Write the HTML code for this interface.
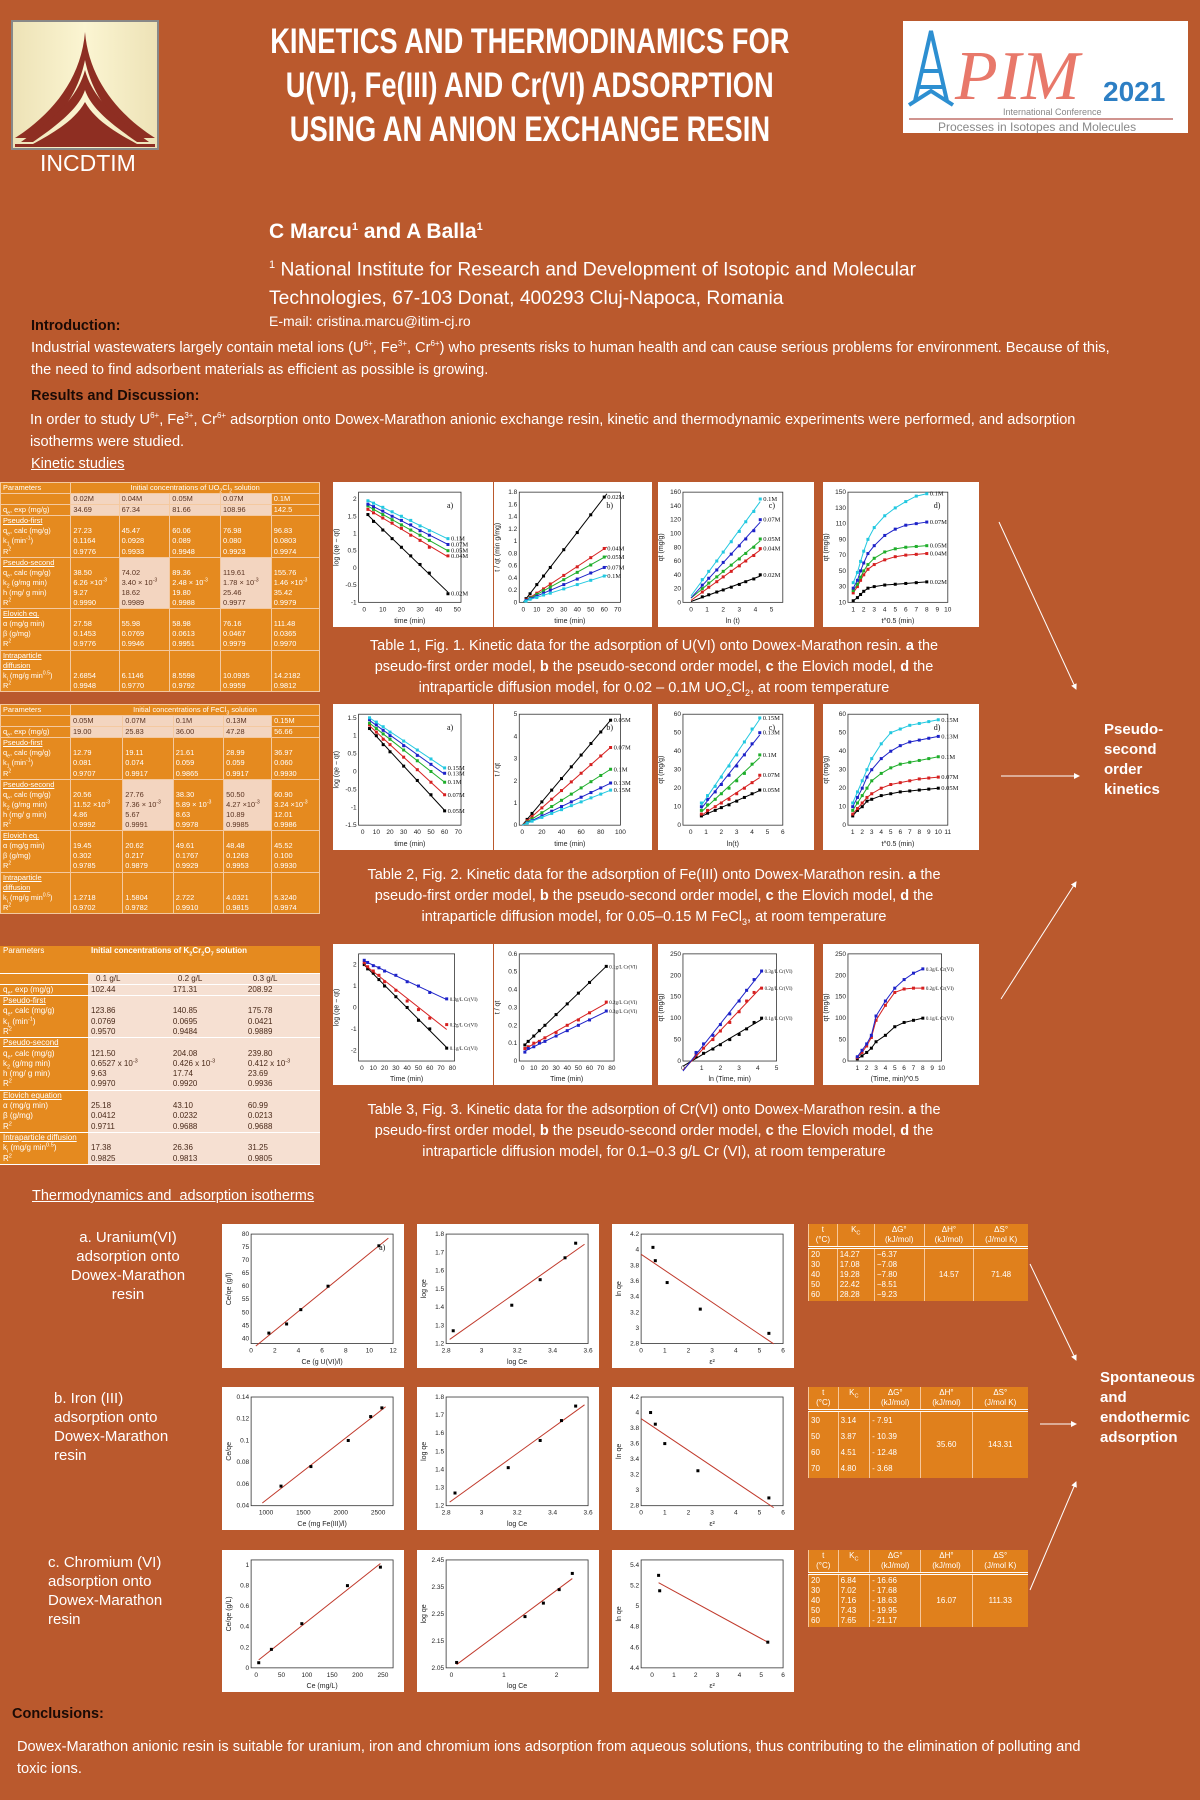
<!DOCTYPE html>
<html><head><meta charset="utf-8">
<style>
*{margin:0;padding:0;box-sizing:border-box}
body{width:1200px;height:1800px;background:#BA592D;position:relative;overflow:hidden;font-family:"Liberation Sans",sans-serif;color:#fff}
.a{position:absolute}
.title{left:190px;width:680px;top:20px;text-align:center;font-weight:bold;font-size:35px;line-height:44px}
.title span{display:inline-block;transform:scaleX(0.78);white-space:nowrap}
.txt{font-size:15px;line-height:22px;white-space:nowrap}
.panel{background:#fff;position:absolute}
.cap{font-size:14.5px;line-height:21px;text-align:center;white-space:nowrap}
table{border-collapse:collapse;font-family:"Liberation Sans Narrow","Liberation Sans",sans-serif;color:#fff;position:absolute}
table sup,table sub{line-height:0;font-size:70%}
.kt td{font-size:7.4px;line-height:10.1px;border:1px solid #f4c9a0;background:#E58A1F;vertical-align:top;padding:0 2px;color:#fff;white-space:nowrap}
.kt td.l{background:#F3D5C0;color:#5a3320}
.kt u{text-decoration:underline}
.t3 td{font-size:8px;line-height:10.3px;border-bottom:1px solid #fff;background:#F6E0D2;color:#4a2a1a;vertical-align:top;padding:0 3px;white-space:nowrap}
.t3 td.o{background:#E58A1F;color:#fff}
.th td{font-size:8px;line-height:10px;background:#E0801C;color:#fff;text-align:center;border-left:1px solid #f7c79a;vertical-align:top;padding:1px 2px;white-space:nowrap}
.th tr.h td{border-bottom:3px double #fff}
.side{font-weight:bold;font-size:15px;line-height:20px}
</style></head><body>

<div class="a" style="left:11px;top:20px;width:148px;height:130px">
<svg width="148" height="130" viewBox="0 0 148 130">
<defs><linearGradient id="lg" x1="0" y1="0" x2="1" y2="0"><stop offset="0" stop-color="#EDE2B6"/><stop offset="0.5" stop-color="#FBF5D2"/><stop offset="1" stop-color="#EDE2B6"/></linearGradient></defs>
<rect x="1" y="1" width="146" height="128" fill="url(#lg)" stroke="#888" stroke-width="2"/>
<path d="M74 12 C70 60 40 95 4 118 L20 118 C50 100 68 70 74 40 C80 70 98 100 128 118 L144 118 C108 95 78 60 74 12Z" fill="#8E2E22"/>
<path d="M74 50 C66 80 40 100 10 122 L22 122 C48 104 68 88 74 70 C80 88 100 104 126 122 L138 122 C108 100 82 80 74 50Z" fill="#8E2E22"/>
<path d="M74 82 C64 100 44 112 22 124 L126 124 C104 112 84 100 74 82Z" fill="#8E2E22"/>
<rect x="4" y="124" width="140" height="3" fill="#8E2E22"/>
</svg></div>
<div class="a" style="left:40px;top:150px;font-size:23px;font-family:'Liberation Sans Narrow','Liberation Sans',sans-serif">INCDTIM</div>

<div class="a title"><span>KINETICS AND THERMODINAMICS FOR</span><br><span>U(VI), Fe(III) AND Cr(VI) ADSORPTION</span><br><span>USING AN ANION EXCHANGE RESIN</span></div>

<div class="a" style="left:903px;top:21px;width:285px;height:112px;background:#fff">
<svg width="285" height="112" viewBox="0 0 285 112">
<path d="M12 80 L28 10 L44 80 M16 66 L40 66 M20 50 L36 50 M6 84 L28 70 L50 84" stroke="#2D8FD1" stroke-width="4" fill="none"/>
<text x="52" y="78" font-family="Liberation Serif,serif" font-style="italic" font-size="70" fill="#E8786A">PIM</text>
<text x="200" y="80" font-family="Liberation Sans,sans-serif" font-weight="bold" font-size="28" fill="#2D7FC4">2021</text>
<text x="100" y="94" font-family="Liberation Sans,sans-serif" font-size="9" fill="#888">International Conference</text>
<line x1="6" y1="98" x2="270" y2="98" stroke="#C0706A" stroke-width="1.5"/>
<text x="35" y="110" font-family="Liberation Sans,sans-serif" font-size="12" fill="#888">Processes in Isotopes and Molecules</text>
</svg></div>

<div class="a" style="left:269px;top:220px;font-size:21px;font-weight:bold">C Marcu<sup style="font-size:11px">1</sup> and A Balla<sup style="font-size:11px">1</sup></div>
<div class="a" style="left:269px;top:251px;font-size:19.3px;line-height:29px;white-space:nowrap"><sup style="font-size:11px">1</sup> National Institute for Research and Development of Isotopic and Molecular<br>Technologies, 67-103 Donat, 400293 Cluj-Napoca, Romania</div>
<div class="a" style="left:269px;top:313px;font-size:14px">E-mail: cristina.marcu@itim-cj.ro</div>

<div class="a" style="left:31px;top:318px;font-size:14.5px;font-weight:bold;color:#1a0a05">Introduction:</div>
<div class="a txt" style="left:31px;top:333px;font-size:14.6px">Industrial wastewaters largely contain metal ions (U<sup style="font-size:8px">6+</sup>, Fe<sup style="font-size:8px">3+</sup>, Cr<sup style="font-size:8px">6+</sup>) who presents risks to human health and can cause serious problems for environment. Because of this,<br>the need to find adsorbent materials as efficient as possible is growing.</div>
<div class="a" style="left:31px;top:388px;font-size:14.5px;font-weight:bold;color:#1a0a05">Results and Discussion:</div>
<div class="a txt" style="left:30px;top:405px;font-size:14.6px">In order to study U<sup style="font-size:8px">6+</sup>, Fe<sup style="font-size:8px">3+</sup>, Cr<sup style="font-size:8px">6+</sup> adsorption onto Dowex-Marathon anionic exchange resin, kinetic and thermodynamic experiments were performed, and adsorption<br>isotherms were studied.</div>
<div class="a" style="left:31px;top:456px;font-size:14.5px;text-decoration:underline">Kinetic studies</div>

<!-- Table 1 -->
<table class="kt" style="left:0;top:482px;width:320px">
<tr><td>Parameters</td><td colspan="5" style="text-align:center">Initial concentrations of UO<sub>2</sub>Cl<sub>2</sub> solution</td></tr>
<tr><td></td><td class="l">0.02M</td><td class="l">0.04M</td><td class="l">0.05M</td><td class="l">0.07M</td><td>0.1M</td></tr>
<tr><td>q<sub>e</sub>, exp (mg/g)</td><td class="l">34.69</td><td class="l">67.34</td><td class="l">81.66</td><td class="l">108.96</td><td>142.5</td></tr>
<tr><td><u>Pseudo-first</u><br>q<sub>e</sub>, calc (mg/g)<br>k<sub>1</sub> (min<sup>-1</sup>)<br>R<sup>2</sup></td><td><br>27.23<br>0.1164<br>0.9776</td><td><br>45.47<br>0.0928<br>0.9933</td><td><br>60.06<br>0.089<br>0.9948</td><td><br>76.98<br>0.080<br>0.9923</td><td><br>96.83<br>0.0803<br>0.9974</td></tr>
<tr><td><u>Pseudo-second</u><br>q<sub>e</sub>, calc (mg/g)<br>k<sub>2</sub> (g/mg min)<br>h (mg/ g min)<br>R<sup>2</sup></td><td><br>38.50<br>6.26 ×10<sup>-3</sup><br>9.27<br>0.9990</td><td class="l"><br>74.02<br>3.40 × 10<sup>-3</sup><br>18.62<br>0.9989</td><td><br>89.36<br>2.48 × 10<sup>-3</sup><br>19.80<br>0.9988</td><td class="l"><br>119.61<br>1.78 × 10<sup>-3</sup><br>25.46<br>0.9977</td><td><br>155.76<br>1.46 ×10<sup>-3</sup><br>35.42<br>0.9979</td></tr>
<tr><td><u>Elovich eq.</u><br>α (mg/g min)<br>β (g/mg)<br>R<sup>2</sup></td><td><br>27.58<br>0.1453<br>0.9776</td><td><br>55.98<br>0.0769<br>0.9946</td><td><br>58.98<br>0.0613<br>0.9951</td><td><br>76.16<br>0.0467<br>0.9979</td><td><br>111.48<br>0.0365<br>0.9970</td></tr>
<tr><td><u>Intraparticle</u><br><u>diffusion</u><br>k<sub>i</sub> (mg/g min<sup>0.5</sup>)<br>R<sup>2</sup></td><td><br><br>2.6854<br>0.9948</td><td><br><br>6.1146<br>0.9770</td><td><br><br>8.5598<br>0.9792</td><td><br><br>10.0935<br>0.9959</td><td><br><br>14.2182<br>0.9812</td></tr>
</table>

<!-- Table 2 -->
<table class="kt" style="left:0;top:704px;width:320px">
<tr><td>Parameters</td><td colspan="5" style="text-align:center">Initial concentrations of FeCl<sub>3</sub> solution</td></tr>
<tr><td></td><td class="l">0.05M</td><td class="l">0.07M</td><td class="l">0.1M</td><td class="l">0.13M</td><td>0.15M</td></tr>
<tr><td>q<sub>e</sub>, exp (mg/g)</td><td class="l">19.00</td><td class="l">25.83</td><td class="l">36.00</td><td class="l">47.28</td><td>56.66</td></tr>
<tr><td><u>Pseudo-first</u><br>q<sub>e</sub>, calc (mg/g)<br>k<sub>1</sub> (min<sup>-1</sup>)<br>R<sup>2</sup></td><td><br>12.79<br>0.081<br>0.9707</td><td><br>19.11<br>0.074<br>0.9917</td><td><br>21.61<br>0.059<br>0.9865</td><td><br>28.99<br>0.059<br>0.9917</td><td><br>36.97<br>0.060<br>0.9930</td></tr>
<tr><td><u>Pseudo-second</u><br>q<sub>e</sub>, calc (mg/g)<br>k<sub>2</sub> (g/mg min)<br>h (mg/ g min)<br>R<sup>2</sup></td><td><br>20.56<br>11.52 ×10<sup>-3</sup><br>4.86<br>0.9992</td><td class="l"><br>27.76<br>7.36 × 10<sup>-3</sup><br>5.67<br>0.9991</td><td><br>38.30<br>5.89 × 10<sup>-3</sup><br>8.63<br>0.9978</td><td class="l"><br>50.50<br>4.27 ×10<sup>-3</sup><br>10.89<br>0.9985</td><td><br>60.90<br>3.24 ×10<sup>-3</sup><br>12.01<br>0.9986</td></tr>
<tr><td><u>Elovich eq.</u><br>α (mg/g min)<br>β (g/mg)<br>R<sup>2</sup></td><td><br>19.45<br>0.302<br>0.9785</td><td><br>20.62<br>0.217<br>0.9879</td><td><br>49.61<br>0.1767<br>0.9929</td><td><br>48.48<br>0.1263<br>0.9953</td><td><br>45.52<br>0.100<br>0.9930</td></tr>
<tr><td><u>Intraparticle</u><br><u>diffusion</u><br>k<sub>i</sub> (mg/g min<sup>0.5</sup>)<br>R<sup>2</sup></td><td><br><br>1.2718<br>0.9702</td><td><br><br>1.5804<br>0.9782</td><td><br><br>2.722<br>0.9910</td><td><br><br>4.0321<br>0.9815</td><td><br><br>5.3240<br>0.9974</td></tr>
</table>

<!-- Table 3 -->
<table class="t3" style="left:0;top:946px;width:320px">
<tr><td class="o" style="height:27px;width:88px">Parameters</td><td class="o" colspan="3" style="font-weight:bold">Initial concentrations of K<sub>2</sub>Cr<sub>2</sub>O<sub>7</sub> solution</td></tr>
<tr><td class="o"></td><td style="padding-left:8px">0.1 g/L</td><td style="padding-left:8px">0.2 g/L</td><td style="padding-left:8px">0.3 g/L</td></tr>
<tr><td class="o">q<sub>e</sub>, exp (mg/g)</td><td>102.44</td><td>171.31</td><td>208.92</td></tr>
<tr><td class="o"><u>Pseudo-first</u><br>q<sub>e</sub>, calc (mg/g)<br>k<sub>1</sub> (min<sup>-1</sup>)<br>R<sup>2</sup></td><td><br>123.86<br>0.0769<br>0.9570</td><td><br>140.85<br>0.0695<br>0.9484</td><td><br>175.78<br>0.0421<br>0.9889</td></tr>
<tr><td class="o"><u>Pseudo-second</u><br>q<sub>e</sub>, calc (mg/g)<br>k<sub>2</sub> (g/mg min)<br>h (mg/ g min)<br>R<sup>2</sup></td><td><br>121.50<br>0.6527 x 10<sup>-3</sup><br>9.63<br>0.9970</td><td><br>204.08<br>0.426 x 10<sup>-3</sup><br>17.74<br>0.9920</td><td><br>239.80<br>0.412 x 10<sup>-3</sup><br>23.69<br>0.9936</td></tr>
<tr><td class="o"><u>Elovich equation</u><br>α (mg/g min)<br>β (g/mg)<br>R<sup>2</sup></td><td><br>25.18<br>0.0412<br>0.9711</td><td><br>43.10<br>0.0232<br>0.9688</td><td><br>60.99<br>0.0213<br>0.9688</td></tr>
<tr><td class="o"><u>Intraparticle diffusion</u><br>k<sub>i</sub> (mg/g min<sup>0.5</sup>)<br>R<sup>2</sup></td><td><br>17.38<br>0.9825</td><td><br>26.36<br>0.9813</td><td><br>31.25<br>0.9805</td></tr>
</table>

<div class="a cap" style="left:344px;width:620px;top:636px">Table 1, Fig. 1. Kinetic data for the adsorption of U(VI) onto Dowex-Marathon resin. <b>a</b> the<br>pseudo-first order model, <b>b</b> the pseudo-second order model, <b>c</b> the Elovich model, <b>d</b> the<br>intraparticle diffusion model, for 0.02 – 0.1M UO<sub style="font-size:9px;line-height:0">2</sub>Cl<sub style="font-size:9px;line-height:0">2</sub>, at room temperature</div>
<div class="a cap" style="left:344px;width:620px;top:865px">Table 2, Fig. 2. Kinetic data for the adsorption of Fe(III) onto Dowex-Marathon resin. <b>a</b> the<br>pseudo-first order model, <b>b</b> the pseudo-second order model, <b>c</b> the Elovich model, <b>d</b> the<br>intraparticle diffusion model, for 0.05–0.15 M FeCl<sub style="font-size:9px;line-height:0">3</sub>, at room temperature</div>
<div class="a cap" style="left:344px;width:620px;top:1100px">Table 3, Fig. 3. Kinetic data for the adsorption of Cr(VI) onto Dowex-Marathon resin. <b>a</b> the<br>pseudo-first order model, <b>b</b> the pseudo-second order model, <b>c</b> the Elovich model, <b>d</b> the<br>intraparticle diffusion model, for 0.1–0.3 g/L Cr (VI), at room temperature</div>

<div class="a side" style="left:1104px;top:720px">Pseudo-<br>second<br>order<br>kinetics</div>
<div class="a side" style="left:1100px;top:1368px">Spontaneous<br>and<br>endothermic<br>adsorption</div>

<svg class="a" style="left:0;top:0" width="1200" height="1800">
<defs><marker id="ah" markerWidth="6" markerHeight="6" refX="5" refY="3" orient="auto"><path d="M0 0 L6 3 L0 6Z" fill="#fff"/></marker></defs>
<g stroke="#fff" stroke-width="1" marker-end="url(#ah)">
<line x1="999" y1="522" x2="1076" y2="689"/><line x1="1001" y1="776" x2="1079" y2="776"/><line x1="1001" y1="999" x2="1076" y2="882"/>
<line x1="1030" y1="1264" x2="1076" y2="1360"/><line x1="1040" y1="1424" x2="1076" y2="1424"/><line x1="1030" y1="1590" x2="1076" y2="1482"/>
</g></svg>

<div class="a" style="left:32px;top:1188px;font-size:14.5px;text-decoration:underline">Thermodynamics and &nbsp;adsorption isotherms</div>
<div class="a" style="left:63px;top:1228px;font-size:15px;line-height:19px;text-align:center;width:130px">a. Uranium(VI)<br>adsorption onto<br>Dowex-Marathon<br>resin</div>
<div class="a" style="left:54px;top:1389px;font-size:15px;line-height:19px">b. Iron (III)<br>adsorption onto<br>Dowex-Marathon<br>resin</div>
<div class="a" style="left:48px;top:1553px;font-size:15px;line-height:19px">c. Chromium (VI)<br>adsorption onto<br>Dowex-Marathon<br>resin</div>

<table class="th" style="left:808px;top:1224px;width:220px">
<tr class="h"><td>t<br>(°C)</td><td>K<sub>C</sub></td><td>ΔG°<br>(kJ/mol)</td><td>ΔH°<br>(kJ/mol)</td><td>ΔS°<br>(J/mol K)</td></tr>
<tr><td style="text-align:left">20<br>30<br>40<br>50<br>60</td><td style="text-align:left">14.27<br>17.08<br>19.28<br>22.42<br>28.28</td><td style="text-align:left">−6.37<br>−7.08<br>−7.80<br>−8.51<br>−9.23</td><td style="vertical-align:middle">14.57</td><td style="vertical-align:middle">71.48</td></tr>
</table>
<table class="th" style="left:808px;top:1387px;width:220px">
<tr class="h"><td>t<br>(°C)</td><td>K<sub>C</sub></td><td>ΔG°<br>(kJ/mol)</td><td>ΔH°<br>(kJ/mol)</td><td>ΔS°<br>(J/mol K)</td></tr>
<tr><td style="text-align:left;line-height:16px">30<br>50<br>60<br>70</td><td style="text-align:left;line-height:16px">3.14<br>3.87<br>4.51<br>4.80</td><td style="text-align:left;line-height:16px">- 7.91<br>- 10.39<br>- 12.48<br>- 3.68</td><td style="vertical-align:middle">35.60</td><td style="vertical-align:middle">143.31</td></tr>
</table>
<table class="th" style="left:808px;top:1550px;width:220px">
<tr class="h"><td>t<br>(°C)</td><td>K<sub>C</sub></td><td>ΔG°<br>(kJ/mol)</td><td>ΔH°<br>(kJ/mol)</td><td>ΔS°<br>(J/mol K)</td></tr>
<tr><td style="text-align:left">20<br>30<br>40<br>50<br>60</td><td style="text-align:left">6.84<br>7.02<br>7.16<br>7.43<br>7.65</td><td style="text-align:left">- 16.66<br>- 17.68<br>- 18.63<br>- 19.95<br>- 21.17</td><td style="vertical-align:middle">16.07</td><td style="vertical-align:middle">111.33</td></tr>
</table>

<div class="a" style="left:12px;top:1706px;font-size:14.5px;font-weight:bold;color:#1a0a05">Conclusions:</div>
<div class="a txt" style="left:17px;top:1736px;font-size:14.6px">Dowex-Marathon anionic resin is suitable for uranium, iron and chromium ions adsorption from aqueous solutions, thus contributing to the elimination of polluting and<br>toxic ions.</div>

<div id="plots"></div>

<script>
// ---------- data ----------
const colors5 = ['#000000','#d62020','#1fae2b','#1d22c8','#22c8e0'];
const colors3 = ['#000000','#d62020','#1d22c8'];
const f1Labels = ['0.02M','0.04M','0.05M','0.07M','0.1M'];
const f1aX = [2,5,10,15,20,25,30,35,45];
const f1aY = [[1.55,1.35,1.1,0.85,0.6,0.35,0.1,-0.15,-0.75],[1.7,1.6,1.45,1.3,1.15,0.95,0.8,0.6,0.35],[1.8,1.7,1.55,1.4,1.25,1.1,0.95,0.8,0.5],[1.85,1.78,1.65,1.5,1.38,1.25,1.08,0.95,0.68],[1.95,1.88,1.76,1.63,1.5,1.38,1.22,1.08,0.85]];
const f1bX = [2,5,10,15,20,30,40,50,60];
const f1bY = [[0.06,0.14,0.29,0.43,0.57,0.86,1.14,1.43,1.72],[0.04,0.08,0.15,0.22,0.3,0.44,0.58,0.73,0.88],[0.03,0.07,0.13,0.19,0.25,0.37,0.49,0.61,0.74],[0.03,0.06,0.1,0.15,0.2,0.29,0.38,0.48,0.57],[0.02,0.05,0.08,0.12,0.15,0.22,0.29,0.36,0.43]];
const f1cX = [0.7,1.1,1.6,2.0,2.5,3.0,3.4,3.9,4.3];
const f1cY = [[8,11,15,18,22,26,30,34,40],[15,22,30,37,45,53,60,68,78],[20,28,37,45,54,63,71,80,92],[25,35,47,58,70,82,92,104,120],[33,45,60,73,88,103,117,132,150]];
const f1dX = [1,1.4,1.7,2,2.4,3,4,5,6,7,8];
const f1dY = [[12,16,20,24,28,30,32,33,34,35,36],[22,30,38,45,52,58,64,68,70,71,72],[25,33,42,50,58,66,74,78,80,81,82],[28,38,50,60,72,82,95,103,108,110,112],[35,48,62,75,90,105,120,130,138,145,148]];
const f2Labels = ['0.05M','0.07M','0.1M','0.13M','0.15M'];
const f2aX = [5,10,15,20,30,40,50,60];
const f2aY = [[1.2,1.0,0.75,0.55,0.15,-0.25,-0.65,-1.1],[1.3,1.1,0.9,0.75,0.4,0.05,-0.3,-0.65],[1.35,1.2,1.05,0.9,0.6,0.3,0.0,-0.3],[1.45,1.3,1.15,1.0,0.72,0.45,0.2,-0.05],[1.5,1.38,1.25,1.1,0.85,0.6,0.35,0.1]];
const f2bX = [5,10,20,30,40,50,60,70,80,90];
const f2bY = [[0.26,0.53,1.05,1.58,2.1,2.63,3.16,3.68,4.2,4.73],[0.2,0.39,0.78,1.17,1.56,1.95,2.34,2.73,3.12,3.5],[0.14,0.28,0.56,0.84,1.12,1.4,1.68,1.96,2.24,2.52],[0.11,0.21,0.42,0.63,0.84,1.05,1.26,1.47,1.68,1.9],[0.09,0.18,0.35,0.53,0.7,0.88,1.05,1.23,1.4,1.58]];
const f2cX = [0.7,1.1,1.6,2.0,2.5,3.0,3.5,4.0,4.5];
const f2cY = [[5,6.5,8,9.5,11,13,15,17,19],[6,8,10,12,14,17,20,23,27],[8,11,14,17,20,24,28,33,38],[10,14,18,22,27,32,38,44,50],[12,16,21,26,32,38,45,52,58]];
const f2dX = [1,1.5,2,2.5,3,4,5,6,7,8,9,10];
const f2dY = [[5,8,10,13,14,16,17,18,18.5,19,19.5,20],[6,9,12,15,17,20,22,23,24,25,25.5,26],[8,12,16,20,24,28,31,33,34,35,36,37],[10,15,20,26,30,36,40,43,45,46,47,48],[12,18,24,30,36,44,50,52,54,55,56,57]];
const f3Labels = ['0.1g/L Cr(VI)','0.2g/L Cr(VI)','0.3g/L Cr(VI)'];
const f3aX = [2,5,10,15,20,30,40,50,60,75];
const f3aY = [[2.0,1.8,1.6,1.3,1.0,0.5,0.0,-0.6,-1.0,-1.9],[2.1,1.9,1.7,1.5,1.2,0.8,0.3,-0.1,-0.5,-0.8],[2.2,2.1,1.95,1.85,1.7,1.5,1.2,1.0,0.7,0.4]];
const f3bX = [2,5,10,15,20,30,40,50,60,75];
const f3bY = [[0.09,0.11,0.14,0.17,0.2,0.26,0.32,0.38,0.44,0.53],[0.07,0.08,0.1,0.11,0.13,0.16,0.2,0.23,0.27,0.33],[0.05,0.07,0.08,0.1,0.11,0.14,0.17,0.2,0.23,0.28]];
const f3cX = [0.7,1.1,1.6,2.0,2.5,3.0,3.4,3.8,4.2];
const f3cY = [[10,18,28,38,50,62,75,90,100],[15,30,50,70,90,115,140,160,170],[20,40,60,85,110,140,165,190,210]];
const f3dX = [1,1.5,2,2.5,3,4,5,6,7,8];
const f3dY = [[5,12,20,30,45,60,80,90,95,100],[8,20,35,55,95,130,160,168,170,170],[10,25,40,60,105,140,170,190,205,215]];
const uaX = [1.5,3,4.2,6.5,10.8], uaY = [42,45.5,51,60,75.5];
const ubX = [2.84,3.17,3.33,3.47,3.53], ubY = [1.27,1.41,1.55,1.67,1.75];
const ucX = [0.5,0.6,1.1,2.5,5.4], ucY = [4.03,3.86,3.58,3.24,2.93];
const faX = [1200,1600,2100,2400,2550], faY = [0.058,0.076,0.1,0.122,0.13];
const fbX = [2.85,3.15,3.33,3.45,3.53], fbY = [1.27,1.41,1.56,1.67,1.75];
const fcX = [0.4,0.6,1.0,2.4,5.4], fcY = [4.0,3.85,3.6,3.25,2.9];
const caX = [5,30,90,180,245], caY = [0.05,0.18,0.43,0.8,0.98];
const cbX = [0.1,1.4,1.75,2.05,2.3], cbY = [2.07,2.24,2.29,2.34,2.4];
const ccX = [0.3,0.35,5.3], ccY = [5.3,5.15,4.65];
const tkTime50=[0,10,20,30,40,50], tkLog1=[-1,-0.5,0,0.5,1,1.5,2];
const tkTime70=[0,10,20,30,40,50,60,70], tk18=[0,0.2,0.4,0.6,0.8,1.0,1.2,1.4,1.6,1.8];
const tkLn5=[0,1,2,3,4,5], tk160=[0,20,40,60,80,100,120,140,160];
const tk10=[1,2,3,4,5,6,7,8,9,10], tk150=[10,30,50,70,90,110,130,150];
const tkLog2=[-1.5,-1,-0.5,0,0.5,1,1.5], tk100=[0,20,40,60,80,100], tk5=[0,1,2,3,4,5];
const tkLn6=[0,1,2,3,4,5,6], tk60=[0,10,20,30,40,50,60], tk11=[1,2,3,4,5,6,7,8,9,10,11];
const tk80=[0,10,20,30,40,50,60,70,80], tkLog3=[-2,-1,0,1,2], tkB3=[0,0.1,0.2,0.3,0.4,0.5,0.6];
const tk250=[0,50,100,150,200,250], tk12=[0,2,4,6,8,10,12], tkU=[40,45,50,55,60,65,70,75,80];
const tkLc=[2.8,3.0,3.2,3.4,3.6], tkLq=[1.2,1.3,1.4,1.5,1.6,1.7,1.8];
const tk6=[0,1,2,3,4,5,6], tkLk=[2.8,3.0,3.2,3.4,3.6,3.8,4.0,4.2];
const tkFe=[1000,1500,2000,2500], tkFy=[0.04,0.06,0.08,0.10,0.12,0.14];
const tkCa=[0,50,100,150,200,250], tkCy=[0,0.2,0.4,0.6,0.8,1.0];
const tkCb=[0,1,2], tkCby=[2.05,2.15,2.25,2.35,2.45], tkCcy=[4.4,4.6,4.8,5.0,5.2,5.4];

// ---------- renderer ----------
const NS='http://www.w3.org/2000/svg';
function mk(tag,at){const e=document.createElementNS(NS,tag);for(const k in at)e.setAttribute(k,at[k]);return e;}
function fit(x,y){const n=x.length;let sx=0,sy=0,sxx=0,sxy=0;for(let i=0;i<n;i++){sx+=x[i];sy+=y[i];sxx+=x[i]*x[i];sxy+=x[i]*y[i];}const b=(n*sxy-sx*sy)/(n*sxx-sx*sx);return [b,(sy-b*sx)/n];}
function plot(name,L,T,W,H,c){
  const d=document.createElement('div');d.className='panel';d.style.cssText=`left:${L}px;top:${T}px;width:${W}px;height:${H}px`;
  
  
  document.getElementById('plots').appendChild(d);
  const s=mk('svg',{width:W,height:H});d.appendChild(s);
  const ml=W*0.16,mr=W*(c.mr||0.2),mt=H*0.07,mb=H*0.17;
  const X=v=>ml+(v-c.xd[0])/(c.xd[1]-c.xd[0])*(W-ml-mr);
  const Y=v=>H-mb-(v-c.yd[0])/(c.yd[1]-c.yd[0])*(H-mt-mb);
  const fr=mk('rect',{x:ml,y:mt,width:W-ml-mr,height:H-mt-mb,fill:'none',stroke:'#333','stroke-width':0.8});
  
  
  s.appendChild(fr);
  c.xt.forEach(v=>{const t=mk('text',{x:X(v),y:H-mb+9,'font-size':6.5,'text-anchor':'middle',fill:'#222'});t.textContent=v;
    
    
    s.appendChild(t);});
  c.yt.forEach(v=>{const t=mk('text',{x:ml-2,y:Y(v)+2,'font-size':6.5,'text-anchor':'end',fill:'#222'});t.textContent=v;
    
    
    s.appendChild(t);});
  const xl=mk('text',{x:(ml+W-mr)/2,y:H-4,'font-size':7,'text-anchor':'middle',fill:'#222'});xl.textContent=c.xl;
  
  
  s.appendChild(xl);
  const yl=mk('text',{x:0,y:0,'font-size':7,'text-anchor':'middle',fill:'#222',transform:`translate(${ml-20},${(mt+H-mb)/2}) rotate(-90)`});yl.textContent=c.yl;
  
  
  s.appendChild(yl);
  c.ys.forEach((ys,i)=>{
    const col=c.cols[i];
    if(c.mode==='join'){const pl=mk('polyline',{points:c.x.map((v,j)=>X(v)+','+Y(ys[j])).join(' '),fill:'none',stroke:col,'stroke-width':1});
      
      
      s.appendChild(pl);}
    else{const [b,a]=fit(c.x,ys);const x0=c.fx?c.fx[0]:c.x[0],x1=c.fx?c.fx[1]:c.x[c.x.length-1];
      const ln=mk('line',{x1:X(x0),y1:Y(a+b*x0),x2:X(x1),y2:Y(a+b*x1),stroke:c.lc||col,'stroke-width':1});
      
      
      s.appendChild(ln);}
    c.x.forEach((v,j)=>{const p=mk('rect',{x:X(v)-1.5,y:Y(ys[j])-1.5,width:3,height:3,fill:col});
      
      
      s.appendChild(p);});
    if(c.labels){const lx=X(c.x[c.x.length-1])+3;const t=mk('text',{x:lx,y:Y(ys[ys.length-1])+2,'font-size':c.lfs||6.5,fill:'#111','font-family':'Liberation Serif,serif'});t.textContent=c.labels[i];
      
      
      s.appendChild(t);}
  });
  if(c.tag){const t=mk('text',{x:W-mr-14,y:mt+16,'font-size':8,fill:'#111','font-family':'Liberation Serif,serif'});t.textContent=c.tag;
    
    
    s.appendChild(t);}
}
const PX=[333,494,658,823],PW=[160,158,156,156];
plot('fig1a-pseudo-first',PX[0],482,PW[0],145,{xd:[-3,52],yd:[-1,2.2],xt:tkTime50,yt:tkLog1,xl:'time (min)',yl:'log (qe − qt)',x:f1aX,ys:f1aY,cols:colors5,labels:f1Labels,tag:'a)'});
plot('fig1b-pseudo-second',PX[1],482,PW[1],145,{xd:[-3,72],yd:[0,1.8],xt:tkTime70,yt:tk18,xl:'time (min)',yl:'t / qt (min g/mg)',x:f1bX,ys:f1bY,cols:colors5,labels:f1Labels,tag:'b)',fx:[0,62]});
plot('fig1c-elovich',PX[2],482,PW[2],145,{xd:[-0.5,5.7],yd:[0,160],xt:tkLn5,yt:tk160,xl:'ln (t)',yl:'qt (mg/g)',x:f1cX,ys:f1cY,cols:colors5,labels:f1Labels,tag:'c)',fx:[0,4.3]});
plot('fig1d-intraparticle',PX[3],482,PW[3],145,{xd:[0.5,10],yd:[10,150],xt:tk10,yt:tk150,xl:'t^0.5 (min)',yl:'qt (mg/g)',x:f1dX,ys:f1dY,cols:colors5,labels:f1Labels,mode:'join',tag:'d)'});
plot('fig2a-pseudo-first',PX[0],704,PW[0],146,{xd:[-3,72],yd:[-1.5,1.6],xt:tkTime70,yt:tkLog2,xl:'time (min)',yl:'log (qe − qt)',x:f2aX,ys:f2aY,cols:colors5,labels:f2Labels,tag:'a)'});
plot('fig2b-pseudo-second',PX[1],704,PW[1],146,{xd:[-3,100],yd:[0,5],xt:tk100,yt:tk5,xl:'time (min)',yl:'t / qt',x:f2bX,ys:f2bY,cols:colors5,labels:f2Labels,tag:'b)',fx:[0,90]});
plot('fig2c-elovich',PX[2],704,PW[2],146,{xd:[-0.5,6],yd:[0,60],xt:tkLn6,yt:tk60,xl:'ln(t)',yl:'qt (mg/g)',x:f2cX,ys:f2cY,cols:colors5,labels:f2Labels,tag:'c)'});
plot('fig2d-intraparticle',PX[3],704,PW[3],146,{xd:[0.5,11],yd:[0,60],xt:tk11,yt:tk60,xl:'t^0.5 (min)',yl:'qt (mg/g)',x:f2dX,ys:f2dY,cols:colors5,labels:f2Labels,mode:'join',tag:'d)'});
plot('fig3a-pseudo-first',PX[0],944,PW[0],141,{xd:[-3,82],yd:[-2.5,2.5],xt:tk80,yt:tkLog3,xl:'Time (min)',yl:'log (qe − qt)',x:f3aX,ys:f3aY,cols:colors3,labels:f3Labels,lfs:5,mr:0.24});
plot('fig3b-pseudo-second',PX[1],944,PW[1],141,{xd:[-3,82],yd:[0,0.6],xt:tk80,yt:tkB3,xl:'Time (min)',yl:'t / qt',x:f3bX,ys:f3bY,cols:colors3,labels:f3Labels,lfs:5,mr:0.24});
plot('fig3c-elovich',PX[2],944,PW[2],141,{xd:[0,5],yd:[0,250],xt:tk5,yt:tk250,xl:'ln (Time, min)',yl:'qt (mg/g)',x:f3cX,ys:f3cY,cols:colors3,labels:f3Labels,lfs:5,mr:0.24,fx:[0,4.2]});
plot('fig3d-intraparticle',PX[3],944,PW[3],141,{xd:[0,10],yd:[0,250],xt:tk10,yt:tk250,xl:'(Time, min)^0.5',yl:'qt (mg/g)',x:f3dX,ys:f3dY,cols:colors3,labels:f3Labels,lfs:5,mr:0.24,mode:'join'});
const TX=[222,417,612],TW=182;
plot('uranium-langmuir',TX[0],1224,TW,144,{xd:[0,12],yd:[38,80],xt:tk12,yt:tkU,xl:'Ce (g U(VI)/l)',yl:'Ce/qe (g/l)',x:uaX,ys:[uaY],cols:['#000'],lc:'#c0392b',mr:0.06,fx:[0.4,11.6],tag:'a)'});
plot('uranium-freundlich',TX[1],1224,TW,144,{xd:[2.8,3.6],yd:[1.2,1.8],xt:tkLc,yt:tkLq,xl:'log Ce',yl:'log qe',x:ubX,ys:[ubY],cols:['#000'],lc:'#c0392b',mr:0.06,fx:[2.82,3.58]});
plot('uranium-dr',TX[2],1224,TW,144,{xd:[0,6],yd:[2.8,4.2],xt:tk6,yt:tkLk,xl:'ε²',yl:'ln qe',x:ucX,ys:[ucY],cols:['#000'],lc:'#c0392b',mr:0.06,fx:[0,5.6]});
plot('iron-langmuir',TX[0],1387,TW,143,{xd:[800,2700],yd:[0.04,0.14],xt:tkFe,yt:tkFy,xl:'Ce (mg Fe(III)/l)',yl:'Ce/qe',x:faX,ys:[faY],cols:['#000'],lc:'#c0392b',mr:0.06,fx:[950,2600]});
plot('iron-freundlich',TX[1],1387,TW,143,{xd:[2.8,3.6],yd:[1.2,1.8],xt:tkLc,yt:tkLq,xl:'log Ce',yl:'log qe',x:fbX,ys:[fbY],cols:['#000'],lc:'#c0392b',mr:0.06,fx:[2.82,3.58]});
plot('iron-dr',TX[2],1387,TW,143,{xd:[0,6],yd:[2.8,4.2],xt:tk6,yt:tkLk,xl:'ε²',yl:'ln qe',x:fcX,ys:[fcY],cols:['#000'],lc:'#c0392b',mr:0.06,fx:[0,5.6]});
plot('chromium-langmuir',TX[0],1550,TW,142,{xd:[-10,270],yd:[0,1.05],xt:tkCa,yt:tkCy,xl:'Ce (mg/L)',yl:'Ce/qe (g/L)',x:caX,ys:[caY],cols:['#000'],lc:'#c0392b',mr:0.06});
plot('chromium-freundlich',TX[1],1550,TW,142,{xd:[-0.1,2.6],yd:[2.05,2.45],xt:tkCb,yt:tkCby,xl:'log Ce',yl:'log qe',x:cbX,ys:[cbY],cols:['#000'],lc:'#c0392b',mr:0.06});
plot('chromium-dr',TX[2],1550,TW,142,{xd:[-0.5,6],yd:[4.4,5.45],xt:tk6,yt:tkCcy,xl:'ε²',yl:'ln qe',x:ccX,ys:[ccY],cols:['#000'],lc:'#c0392b',mr:0.06});
</script>
</body></html>
